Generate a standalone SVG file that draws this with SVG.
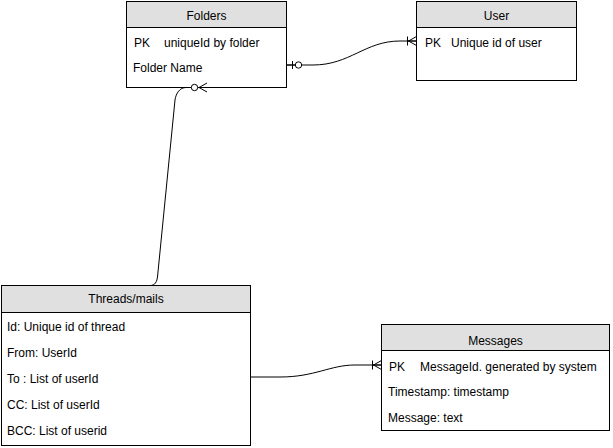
<svg xmlns="http://www.w3.org/2000/svg" width="613" height="448" viewBox="0 0 613 448">
<style>
.box{fill:#ffffff;stroke:#000000;stroke-width:1}
.hdr{fill:#e0e0e0;stroke:#000000;stroke-width:1}
.t{font-family:"Liberation Sans",Arial,sans-serif;font-size:12px;fill:#000000}
.c{text-anchor:middle}
.edge{fill:none;stroke:#000000;stroke-width:1}
</style>
<defs>
<marker id="oneMany" markerUnits="userSpaceOnUse" viewBox="-12 -6 13 12" refX="0" refY="0" markerWidth="13" markerHeight="12" orient="auto" overflow="visible">
<path d="M-9,-4.5 V4.5 M-9,0 H0 M-8,0 L0,-4.5 M-8,0 L0,4.5" fill="none" stroke="#000" stroke-width="1"/>
</marker>
<marker id="zeroOne" markerUnits="userSpaceOnUse" viewBox="-17 -6 18 12" refX="0" refY="0" markerWidth="18" markerHeight="12" orient="auto-start-reverse" overflow="visible">
<path d="M-6,-4 V4 M-9,0 H0" fill="none" stroke="#000" stroke-width="1"/>
<circle cx="-12" cy="0" r="3.2" fill="#fff" stroke="#000" stroke-width="1"/>
</marker>
<marker id="zeroMany" markerUnits="userSpaceOnUse" viewBox="-18 -6 19 12" refX="0" refY="0" markerWidth="19" markerHeight="12" orient="auto" overflow="visible">
<path d="M-9,0 H0 M-8,0 L0,-4.5 M-8,0 L0,4.5" fill="none" stroke="#000" stroke-width="1"/>
<circle cx="-12.5" cy="0" r="3.2" fill="#fff" stroke="#000" stroke-width="1"/>
</marker>
</defs>

<g id="folders">
<rect class="box" x="126.5" y="1.5" width="160" height="86"/>
<rect class="hdr" x="126.5" y="1.5" width="160" height="26"/>
<text class="t c" x="206.5" y="20">Folders</text>
<text class="t" x="134" y="47">PK</text>
<text class="t" x="164" y="47">uniqueId by folder</text>
<text class="t" x="133" y="72">Folder Name</text>
</g>

<g id="user">
<rect class="box" x="416.5" y="1.5" width="160" height="79"/>
<rect class="hdr" x="416.5" y="1.5" width="160" height="26"/>
<text class="t c" x="496.5" y="20">User</text>
<text class="t" x="425" y="47">PK</text>
<text class="t" x="451" y="47">Unique id of user</text>
</g>

<g id="threads">
<rect class="box" x="1.5" y="285.5" width="249" height="160"/>
<rect class="hdr" x="1.5" y="285.5" width="249" height="27"/>
<text class="t c" x="126" y="303">Threads/mails</text>
<text class="t" x="7" y="331">Id: Unique id of thread</text>
<text class="t" x="7" y="357">From: UserId</text>
<text class="t" x="7" y="383">To : List of userId</text>
<text class="t" x="7" y="409">CC: List of userId</text>
<text class="t" x="7" y="435">BCC: List of userid</text>
</g>

<g id="messages">
<rect class="box" x="381.5" y="324.5" width="228" height="106"/>
<rect class="hdr" x="381.5" y="324.5" width="228" height="26"/>
<text class="t c" x="495.5" y="345">Messages</text>
<text class="t" x="389" y="371">PK</text>
<text class="t" x="420" y="371">MessageId. generated by system</text>
<text class="t" x="388" y="396">Timestamp: timestamp</text>
<text class="t" x="388" y="422">Message: text</text>
</g>

<g id="connectors">
<path class="edge" d="M286.5,65 H313 C350,65 365,41 400,41 H416.5" marker-start="url(#zeroOne)" marker-end="url(#oneMany)"/>
<path class="edge" d="M150,285.5 C155,285.5 157,282 157.6,276 L175,100 C176,93 180,87.5 186,87.5 H207" marker-end="url(#zeroMany)"/>
<path class="edge" d="M250.5,377 H280 C315,377 330,365 355,365 H381.5" marker-end="url(#oneMany)"/>
</g>
</svg>
